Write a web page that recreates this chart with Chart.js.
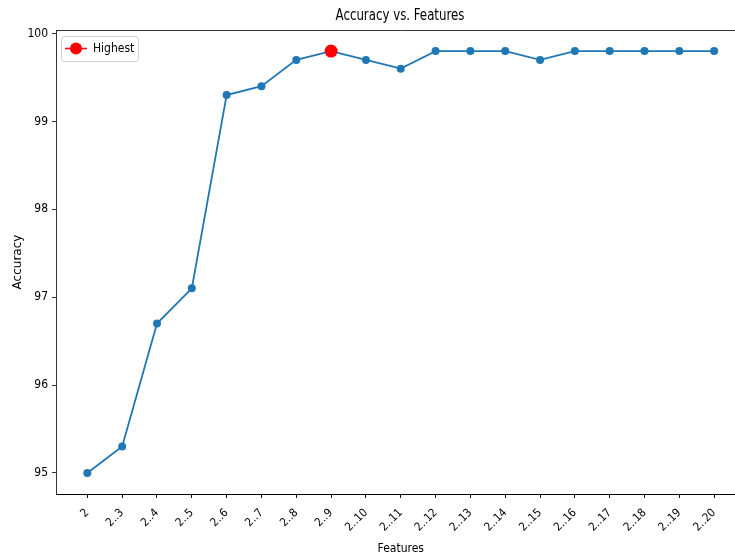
<!DOCTYPE html>
<html>
<head>
<meta charset="utf-8">
<script src="https://cdn.jsdelivr.net/npm/chart.js@4"></script>
<style>
  html, body { margin: 0; padding: 0; background: #fff; overflow: hidden; }
  #wrap { width: 752px; height: 559px; }
</style>
</head>
<body>
<div id="wrap"><canvas id="chart" width="752" height="559"></canvas></div>
<script>
// data
const features = ['2', '2..3', '2..4', '2..5', '2..6', '2..7', '2..8', '2..9', '2..10', '2..11',
  '2..12', '2..13', '2..14', '2..15', '2..16', '2..17', '2..18', '2..19', '2..20'];
const accuracy = [95.0, 95.3, 96.7, 97.1, 99.3, 99.4, 99.7, 99.8, 99.7, 99.6,
  99.8, 99.8, 99.8, 99.7, 99.8, 99.8, 99.8, 99.8, 99.8];
const yTicks = [95, 96, 97, 98, 99, 100];

const best = accuracy.indexOf(Math.max(...accuracy));
const FONT = "'DejaVu Sans Condensed', 'DejaVu Sans', sans-serif";

const extras = {
  id: 'extras',
  afterDraw(chart) {
    const { ctx, chartArea: a } = chart;
    ctx.save();
    // top spine
    ctx.strokeStyle = '#333';
    ctx.lineWidth = 1;
    ctx.beginPath();
    ctx.moveTo(a.left, a.top + 0.5);
    ctx.lineTo(a.right, a.top + 0.5);
    ctx.stroke();

    // title
    ctx.fillStyle = '#000';
    ctx.font = '16px ' + FONT;
    ctx.textAlign = 'center';
    ctx.textBaseline = 'middle';
    ctx.save();
    ctx.translate(400, 16);
    ctx.scale(0.82, 1);
    ctx.fillText('Accuracy vs. Features', 0, 0);
    ctx.restore();

    // legend
    const lx = 61, ly = 36, lw = 77, lh = 25;
    ctx.fillStyle = 'rgba(255,255,255,0.8)';
    ctx.strokeStyle = '#d0d0d0';
    ctx.beginPath();
    ctx.roundRect(lx + 0.5, ly + 0.5, lw, lh, 3);
    ctx.fill();
    ctx.stroke();
    ctx.strokeStyle = 'red';
    ctx.lineWidth = 1.5;
    ctx.beginPath();
    ctx.moveTo(lx + 4, ly + 12.5);
    ctx.lineTo(lx + 26, ly + 12.5);
    ctx.stroke();
    ctx.fillStyle = 'red';
    ctx.beginPath();
    ctx.arc(lx + 15, ly + 12.5, 6, 0, Math.PI * 2);
    ctx.fill();
    ctx.fillStyle = '#000';
    ctx.font = '12px ' + FONT;
    ctx.textAlign = 'left';
    ctx.fillText('Highest', lx + 32, ly + 13);
    ctx.restore();
  }
};

new Chart(document.getElementById('chart'), {
  type: 'line',
  data: {
    datasets: [
      {
        label: 'Accuracy',
        data: accuracy.map((v, i) => ({ x: i, y: v })),
        borderColor: '#1f77b4',
        backgroundColor: '#1f77b4',
        borderWidth: 1.8,
        pointRadius: 4,
        pointBorderWidth: 0,
        pointHoverRadius: 4,
        tension: 0,
        order: 2
      },
      {
        label: 'Highest',
        data: [{ x: best, y: accuracy[best] }],
        borderColor: 'red',
        backgroundColor: 'red',
        pointRadius: 6.5,
        pointBorderWidth: 0,
        pointHoverRadius: 6.5,
        showLine: false,
        order: 1
      }
    ]
  },
  options: {
    responsive: false,
    animation: false,
    layout: { padding: { top: 30, left: 0, right: 0, bottom: 0 } },
    plugins: { legend: { display: false }, title: { display: false }, tooltip: { enabled: false } },
    scales: {
      x: {
        type: 'linear',
        min: -0.9,
        max: 18.9,
        afterBuildTicks(scale) { scale.ticks = features.map((_, i) => ({ value: i })); },
        afterFit(scale) { scale.height = 65; },
        ticks: {
          autoSkip: false,
          minRotation: 45,
          maxRotation: 45,
          color: '#000',
          font: { family: FONT, size: 11.5 },
          padding: 8,
          callback: v => features[v]
        },
        grid: { drawOnChartArea: false, drawTicks: true, tickLength: 4, color: '#000' },
        border: { display: true, color: '#000', width: 1 },
        title: { display: true, text: 'Features', color: '#000', font: { family: FONT, size: 12 }, padding: { top: 0, bottom: 3 } }
      },
      y: {
        min: 94.76,
        max: 100.04,
        afterBuildTicks(scale) { scale.ticks = yTicks.map(v => ({ value: v })); },
        afterFit(scale) { scale.width = 56; },
        ticks: { color: '#000', font: { family: FONT, size: 12 }, padding: 4 },
        grid: { drawOnChartArea: false, drawTicks: true, tickLength: 4, color: '#333' },
        border: { display: true, color: '#333', width: 1 },
        title: { display: true, text: 'Accuracy', color: '#000', font: { family: "'DejaVu Sans', sans-serif", size: 12 }, padding: { top: 11, bottom: 0 } }
      }
    }
  },
  plugins: [extras]
});
</script>
</body>
</html>
